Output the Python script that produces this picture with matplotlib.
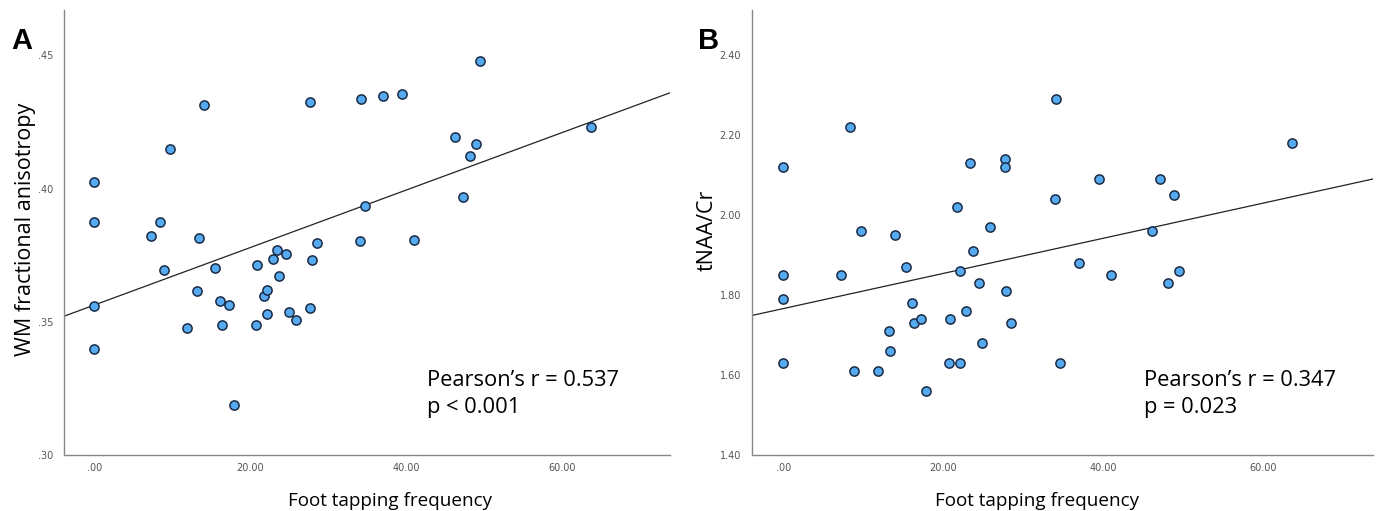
import numpy as np
import matplotlib
matplotlib.use('Agg')
import matplotlib.pyplot as plt
from matplotlib.ticker import FuncFormatter, FixedLocator

# foot tapping frequency (shared by both panels)
foot_tapping = [0, 0, 0, 0, 7.2, 8.4, 8.9, 9.7, 11.9, 13.2, 13.4, 14.0, 15.4, 16.1,
                16.4, 17.2, 17.9, 20.7, 20.9, 21.7, 22.1, 22.1, 22.9, 23.4, 23.7,
                24.5, 24.9, 25.9, 27.7, 27.7, 27.9, 28.5, 34.0, 34.2, 34.7, 37.0,
                39.5, 41.0, 46.2, 47.2, 48.2, 48.9, 49.5, 63.7]

wm_fa = [0.4025, 0.3876, 0.3559, 0.3397, 0.3823, 0.3874, 0.3693, 0.4147, 0.3477,
         0.3616, 0.3813, 0.4314, 0.3701, 0.3577, 0.3487, 0.3563, 0.3188, 0.3486,
         0.3714, 0.3595, 0.3620, 0.3529, 0.3736, 0.3769, 0.3672, 0.3756, 0.3536,
         0.3506, 0.4325, 0.3553, 0.3731, 0.3794, 0.3803, 0.4337, 0.3933, 0.4347,
         0.4354, 0.3808, 0.4192, 0.3967, 0.4121, 0.4166, 0.4479, 0.4231]

tnaa_cr = [2.12, 1.85, 1.79, 1.63, 1.85, 2.22, 1.61, 1.96, 1.61, 1.71, 1.66, 1.95,
           1.87, 1.78, 1.73, 1.74, 1.56, 1.63, 1.74, 2.02, 1.86, 1.63, 1.76, 2.13,
           1.91, 1.83, 1.68, 1.97, 2.14, 2.12, 1.81, 1.73, 2.04, 2.29, 1.63, 1.88,
           2.09, 1.85, 1.96, 2.09, 1.83, 2.05, 1.86, 2.18]

x_ticks = [0, 20, 40, 60]
fa_ticks = [0.30, 0.35, 0.40, 0.45]
naa_ticks = [1.40, 1.60, 1.80, 2.00, 2.20, 2.40]

text_family = ['Open Sans', 'DejaVu Sans']


def no_lead_zero(v, pos):
    s = '%.2f' % v
    if s.startswith('0'):
        s = s[1:]
    return s


def FitSize(fig, txt, target_px, vertical=False):
    #scale font so the text spans target_px on the canvas
    r = fig.canvas.get_renderer()
    bb = txt.get_window_extent(r)
    w = bb.height if vertical else bb.width
    txt.set_fontsize(txt.get_fontsize() * target_px / w)
    return txt.get_fontsize()


def Panel(ax, x, y, yticks, ylim, ylabel, stat_lines, letter, xlab_x, ylab_x, stat_x):
    x = np.array(x)
    y = np.array(y)

    ax.scatter(x, y, s=44, color='#55aaf0', edgecolors='#1b2b45', linewidths=1.1, zorder=3)

    # linear fit line across the whole axis
    b, a = np.polyfit(x, y, 1)
    xl = np.array([-3.9, 73.8])
    ax.plot(xl, a + b * xl, color='#222222', lw=0.9, zorder=2)

    ax.set_xlim(-3.9, 73.8)
    ax.set_ylim(*ylim)
    ax.xaxis.set_major_locator(FixedLocator(x_ticks))
    ax.yaxis.set_major_locator(FixedLocator(yticks))
    ax.xaxis.set_major_formatter(FuncFormatter(no_lead_zero))
    ax.yaxis.set_major_formatter(FuncFormatter(no_lead_zero))
    ax.tick_params(length=0, labelsize=7, labelcolor='#555555', pad=6)
    ax.tick_params(axis='y', pad=8)

    for side in ['top', 'right']:
        ax.spines[side].set_visible(False)
    for side in ['left', 'bottom']:
        ax.spines[side].set_color('#888888')
        ax.spines[side].set_linewidth(1.0)

    ax.set_xlabel('Foot tapping frequency', fontsize=15, family=text_family)
    ax.xaxis.label.set_va('baseline')
    ax.xaxis.set_label_coords(xlab_x, -0.114)

    ax.set_ylabel(ylabel, fontsize=15, family=text_family)
    ax.yaxis.label.set_va('center')
    ax.yaxis.set_label_coords(ylab_x, 0.506)

    stats = []
    for k, line in enumerate(stat_lines):
        t = ax.text(stat_x, 0.155 - k * 0.0607, line, transform=ax.transAxes,
                    fontsize=17, family=text_family, va='baseline', ha='left')
        stats.append(t)

    ax.text(-0.07, 0.93, letter, transform=ax.transAxes, fontsize=21,
            fontweight='bold', family='Liberation Sans', ha='center', va='center')

    return stats


fig = plt.figure(figsize=(13.8, 5.11), dpi=100)
axA = fig.add_axes([0.0464, 0.1096, 0.4391, 0.8708])
axB = fig.add_axes([0.5449, 0.1096, 0.4500, 0.8708])

statsA = Panel(axA, foot_tapping, wm_fa, fa_ticks, (0.30, 0.467),
               'WM fractional anisotropy', ['Pearson\u2019s r = 0.537', 'p < 0.001'], 'A',
               0.538, -0.064, 0.599)
statsB = Panel(axB, foot_tapping, tnaa_cr, naa_ticks, (1.40, 2.5125),
               'tNAA/Cr', ['Pearson\u2019s r = 0.347', 'p = 0.023'], 'B',
               0.459, -0.073, 0.631)

#match text sizes to the reference widths
fig.canvas.draw()
xl_size = FitSize(fig, axA.xaxis.label, 205)
axB.xaxis.label.set_fontsize(xl_size)
yl_size = FitSize(fig, axA.yaxis.label, 252, vertical=True)
axB.yaxis.label.set_fontsize(yl_size)
st_size = FitSize(fig, statsA[0], 192)
for t in statsA + statsB:
    t.set_fontsize(st_size)

fig.savefig('out.png', dpi=100)
